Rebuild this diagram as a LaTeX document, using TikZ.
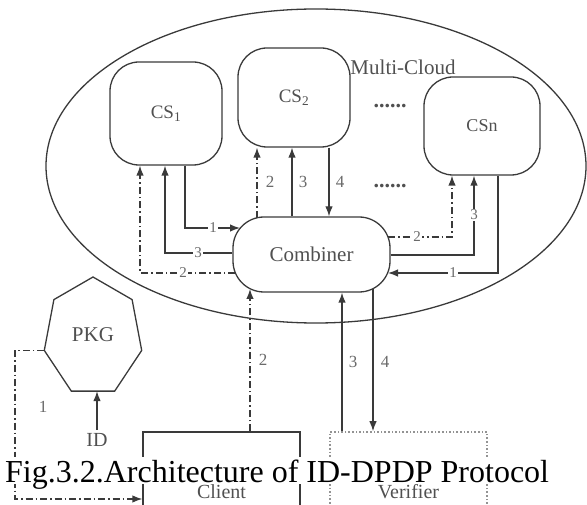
\documentclass[tikz,border=0pt]{standalone}
\usepackage{fontspec}
\setmainfont{Liberation Serif}
\usetikzlibrary{arrows.meta,calc}
\definecolor{lc}{HTML}{3A3A3A}
\definecolor{tc}{HTML}{505050}
\begin{document}
\begin{tikzpicture}[x=1pt,y=-1pt,
  ln/.style={draw=lc, line width=1.3pt},
  arr/.style={ln, -{Latex[length=10pt,width=7.5pt]}},
  dd/.style={dash pattern=on 7pt off 3pt on 1.5pt off 3pt},
  box/.style={draw=lc, line width=1.3pt, rounded corners=29pt, text=tc, font=\fontsize{19}{19}\selectfont},
  lbl/.style={text=tc, font=\fontsize{20}{20}\selectfont},
  num/.style={text=tc!85, font=\fontsize{17}{17}\selectfont, inner sep=1pt},
  hnum/.style={num, fill=white, font=\fontsize{15}{15}\selectfont},
  dots/.style={text=tc, font=\fontsize{22}{22}\selectfont\bfseries, inner sep=0pt}]
\useasboundingbox (0,0) rectangle (587,505);

% cloud
\draw[ln] (316,166) ellipse [x radius=270, y radius=157];
\node[lbl, font=\fontsize{21}{21}\selectfont, inner sep=0pt] (mc) at (403,67) {Multi-Cloud};

% servers
\node[box, minimum width=112pt, minimum height=103pt] (cs1) at (166,113.5) {CS\textsubscript{1}};
\node[box, minimum width=112pt, minimum height=99pt] (cs2) at (294,97.5) {CS\textsubscript{2}};
\node[box, minimum width=116pt, minimum height=98pt, font=\fontsize{18}{18}\selectfont] (csn) at (482,126) {CSn};
\node[box, rounded corners=31pt, minimum width=157pt, minimum height=75pt, font=\fontsize{21}{21}\selectfont] (comb) at (311.5,254.5) {Combiner};

\node[dots] (d1) at (390,106) {......};
\node[dots] (d2) at (390,186) {......};

% CS1 connectors
\draw[arr] (cs1.south -| 185,0) |- (240,228);
\node[hnum] (l1a) at (213,228) {1};
\draw[arr] (comb.west |- 0,253) -| (cs1.south -| 165,0);
\node[hnum] (l1b) at (198,253) {3};
\draw[arr,dd] (235,273) -| (cs1.south -| 140,0);
\node[hnum] (l1c) at (183,273) {2};

% CS2 connectors
\draw[arr,dd] (257,218) -- (cs2.south -| 257,0);
\node[num] (l2a) at (270,182) {2};
\draw[arr] (comb.north -| 292,0) -- (cs2.south -| 292,0);
\node[num] (l2b) at (303,182) {3};
\draw[arr] (cs2.south -| 329,0) -- (comb.north -| 329,0);
\node[num] (l2c) at (340,182) {4};

% CSn connectors
\draw[arr,dd] (388,237) -| (csn.south -| 452,0);
\node[hnum] (l3a) at (417,237) {2};
\draw[arr] (comb.east |- 0,255) -| (csn.south -| 474,0);
\node[hnum] (l3b) at (474,215) {3};
\draw[arr] (csn.south -| 498,0) |- (388,273);
\node[hnum] (l3c) at (453,273) {1};

% client / verifier
\node[draw=lc, line width=1.3pt, minimum width=157pt, minimum height=120pt, lbl] (client) at (221.5,492) {Client};
\node[draw=lc!55, dotted, line width=1.6pt, minimum width=157pt, minimum height=120pt, lbl] (verifier) at (408.5,492) {Verifier};

\draw[arr,dd] (client.north -| 250,0) -- (250,289);
\node[num] (l4a) at (263,360) {2};
\draw[arr] (verifier.north -| 342,0) -- (comb.south -| 342,0);
\node[num] (l4b) at (353,362) {3};
\draw[arr] (373,289) -- (verifier.north -| 373,0);
\node[num] (l4c) at (385,362) {4};

% PKG
\draw[ln] (93,277) -- (53.9,299.6) -- (44.3,350.4) coordinate (pkgL) -- (71.3,391.1) -- (114.7,391.1) -- (141.7,350.4) -- (132.1,299.6) -- cycle;
\node[lbl, font=\fontsize{21}{21}\selectfont] (pkg) at (93,335) {PKG};
\node[lbl] (id) at (97,440) {ID};
\draw[arr] (id.north) -- (97,391.1);
\draw[arr,dd] (pkgL) -- (15,350.4) -- (15,499) -- (client.west |- 0,499);
\node[num] (l5) at (43,407) {1};

% caption
\node[anchor=base west, inner xsep=0pt, inner ysep=2pt, text depth=0pt, fill=white, font=\fontsize{32}{32}\selectfont] (cap) at (5,482) {Fig.3.2.Architecture of ID-DPDP Protocol};
\end{tikzpicture}
\end{document}
